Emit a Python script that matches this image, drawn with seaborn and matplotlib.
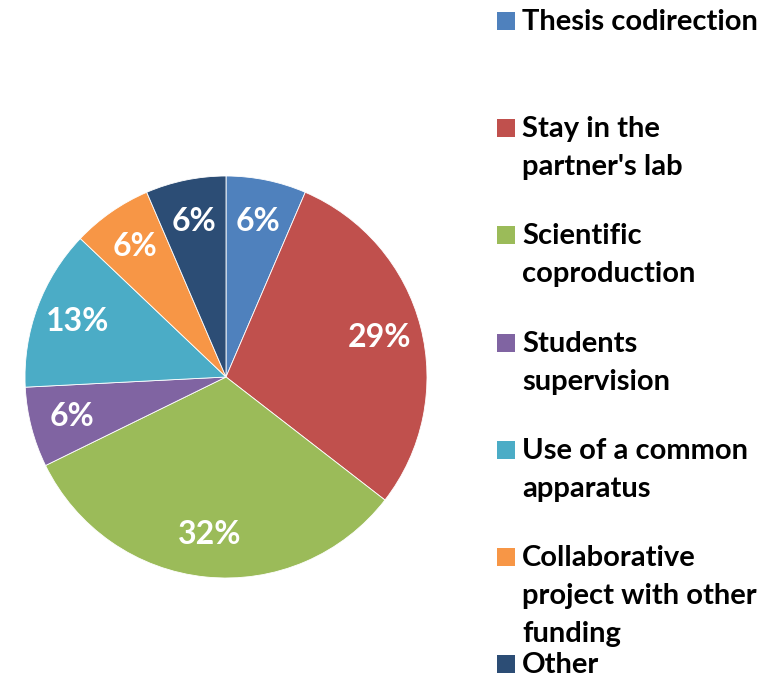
import matplotlib
matplotlib.use("Agg")
import matplotlib.pyplot as plt
import seaborn as sns
from matplotlib.patches import Rectangle

# data (counts, read as shares of 31 answers)
categories = ["Thesis codirection", "Stay in the partner's lab", "Scientific coproduction",
              "Students supervision", "Use of a common apparatus",
              "Collaborative project with other funding", "Other"]
legend_labels = ["Thesis codirection", "Stay in the\npartner's lab", "Scientific\ncoproduction",
                 "Students\nsupervision", "Use of a common\napparatus",
                 "Collaborative\nproject with other\nfunding", "Other"]
counts = [2, 9, 10, 2, 4, 2, 2]
colors = ["#4F81BD", "#C0504D", "#9BBB59", "#8064A2", "#4BACC6", "#F79646", "#2C4D75"]

sns.set_theme(style="white")
plt.rcParams['font.family'] = ['Lato', 'DejaVu Sans']

W, H = 782, 678
fig = plt.figure(figsize=(W / 100, H / 100), dpi=100)
fig.patch.set_facecolor("white")

# pie axes: centre (226, 377), radius 201 px
cx, cy, r = 226, 377, 201
ax = fig.add_axes([(cx - r) / W, (H - cy - r) / H, 2 * r / W, 2 * r / H])
palette = sns.color_palette(colors)
wedges, texts, autotexts = ax.pie(
    counts, colors=palette, startangle=90, counterclock=False,
    autopct='%.0f%%', pctdistance=0.79,
    wedgeprops=dict(edgecolor="white", linewidth=0.6),
    textprops=dict(color="white", fontsize=23, fontweight="bold"))
ax.set_xlim(-1, 1)
ax.set_ylim(-1, 1)
ax.set_aspect("equal")
ax.axis("off")

# legend drawn by hand to match the spacing of the original
first_base, step, line_gap = 30, 107.2, 38
for i, (lab, col) in enumerate(zip(legend_labels, palette)):
    base = first_base + i * step
    fig.patches.append(Rectangle((497 / W, (H - base) / H), 18 / W, 18 / H,
                                 transform=fig.transFigure, facecolor=col,
                                 edgecolor="none"))
    for j, line in enumerate(lab.split("\n")):
        fig.text(522 / W, (H - base - j * line_gap) / H, line,
                 fontsize=21, fontweight="bold", color="black",
                 ha="left", va="baseline")

fig.savefig("out.png", dpi=100, facecolor="white")
